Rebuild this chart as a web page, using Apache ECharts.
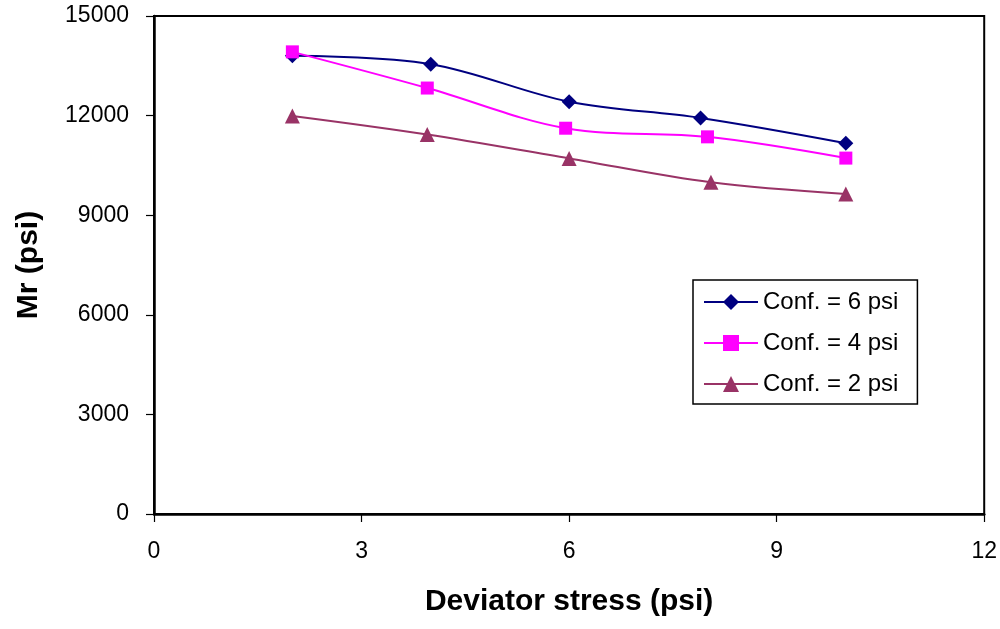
<!DOCTYPE html>
<html>
<head>
<meta charset="utf-8">
<script src="https://cdn.jsdelivr.net/npm/echarts@6/dist/echarts.min.js"></script>
<style>html,body{margin:0;padding:0;background:#fff}#c{width:1000px;height:629px}</style>
</head>
<body>
<div id="c"></div>
<script>
const seriesNames = ["Conf. = 6 psi", "Conf. = 4 psi", "Conf. = 2 psi"];
const x6 = [2, 4, 6, 7.9, 10];
const y6 = [13800, 13550, 12420, 11930, 11170];
const x4 = [2, 3.95, 5.95, 8, 10];
const y4 = [13920, 12830, 11620, 11360, 10720];
const x2 = [2, 3.95, 6, 8.05, 10];
const y2 = [11990, 11430, 10710, 9990, 9640];
const xTicks = [0, 3, 6, 9, 12];
const yTicks = [0, 3000, 6000, 9000, 12000, 15000];
const colors = ["#000080", "#FF00FF", "#993366"];
const symbols = ["diamond", "rect", "triangle"];
const symSizes = [15, 13, 15];

const pair = (xs, ys) => xs.map((x, i) => [x, ys[i]]);
const datasets = [pair(x6, y6), pair(x4, y4), pair(x2, y2)];

const chart = echarts.init(document.getElementById('c'), null, {renderer: 'canvas'});
const font = 'Liberation Sans, Arial, sans-serif';
chart.setOption({
  animation: false,
  backgroundColor: '#fff',
  grid: {left: 154, right: 15, top: 16, bottom: 115, show: true, borderColor: '#000', borderWidth: 2, backgroundColor: 'transparent'},
  xAxis: {
    type: 'value', min: xTicks[0], max: xTicks[xTicks.length - 1], interval: 3,
    name: 'Deviator stress (psi)', nameLocation: 'middle', nameGap: 73,
    nameTextStyle: {fontFamily: font, fontSize: 30, fontWeight: 'bold', color: '#000'},
    axisLine: {show: true, lineStyle: {color: '#000', width: 2.5}},
    axisTick: {show: true, inside: false, length: 8, lineStyle: {color: '#000', width: 1.2}},
    axisLabel: {fontFamily: font, fontSize: 23, color: '#000', margin: 26, formatter: v => String(v)},
    splitLine: {show: false}
  },
  yAxis: {
    type: 'value', min: yTicks[0], max: yTicks[yTicks.length - 1], interval: 3000,
    name: 'Mr (psi)', nameLocation: 'middle', nameGap: 110, nameRotate: 90,
    nameTextStyle: {fontFamily: font, fontSize: 30, fontWeight: 'bold', color: '#000'},
    axisLine: {show: true, lineStyle: {color: '#000', width: 2.5}},
    axisTick: {show: true, inside: false, length: 8, lineStyle: {color: '#000', width: 1.2}},
    axisLabel: {fontFamily: font, fontSize: 23, color: '#000', margin: 25, formatter: v => String(v)},
    splitLine: {show: false}
  },
  legend: {
    orient: 'vertical', left: 693, top: 280,
    padding: [10, 19, 8, 10], itemGap: 17,
    itemWidth: 54, itemHeight: 20,
    borderColor: '#000', borderWidth: 1.5, backgroundColor: '#fff',
    textStyle: {fontFamily: font, fontSize: 24, color: '#000'},
    data: seriesNames
  },
  series: seriesNames.map((n, i) => ({
    name: n, type: 'line', data: datasets[i], smooth: 0.35,
    symbol: symbols[i], symbolSize: symSizes[i],
    lineStyle: {color: colors[i], width: 2},
    itemStyle: {color: colors[i]}
  }))
});
</script>
</body>
</html>
